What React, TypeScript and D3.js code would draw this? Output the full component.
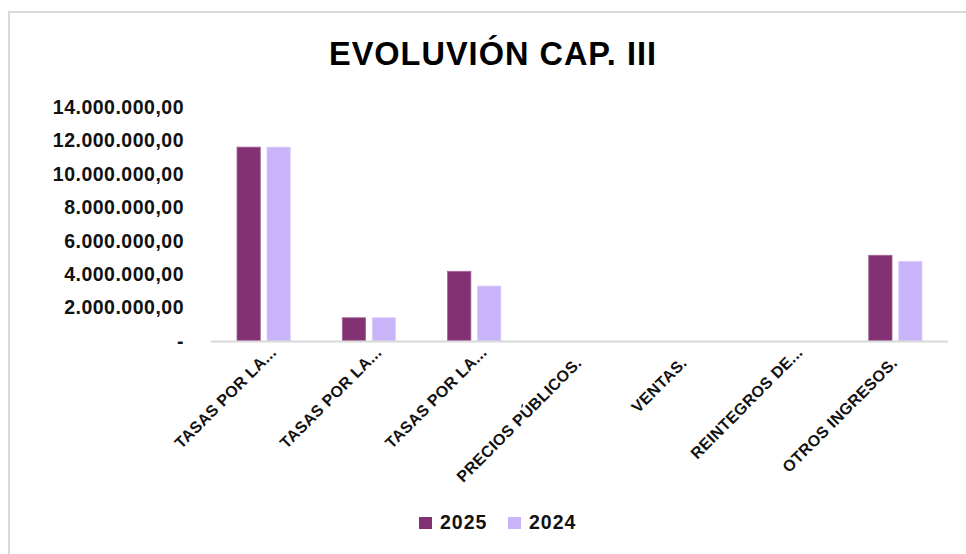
import React from "react";
import * as d3 from "d3";

const categories = [
  "TASAS POR LA...",
  "TASAS POR LA...",
  "TASAS POR LA...",
  "PRECIOS PÚBLICOS.",
  "VENTAS.",
  "REINTEGROS DE...",
  "OTROS INGRESOS.",
];
const seriesNames = ["2025", "2024"];
const values2025 = [11600000, 1390000, 4170000, 0, 0, 0, 5130000];
const values2024 = [11600000, 1390000, 3290000, 0, 0, 0, 4770000];
const yTicks = [0, 2000000, 4000000, 6000000, 8000000, 10000000, 12000000, 14000000];
const colors = ["#843173", "#C9B4FA"];
const title = "EVOLUVIÓN CAP. III";

const W = 966;
const H = 554;
const FONT = "'Liberation Sans', Arial, sans-serif";

const locale = d3.formatLocale({
  decimal: ",",
  thousands: ".",
  grouping: [3],
  currency: ["", ""],
});
const fmt = locale.format(",.2f");
const tickLabel = (v: number) => (v === 0 ? "-" : fmt(v));

export default function App() {
  const series = [values2025, values2024];
  const x = d3
    .scaleBand<number>()
    .domain(categories.map((_, i) => i))
    .range([211, 948])
    .paddingInner(0.494)
    .paddingOuter(0.247);
  const xs = d3
    .scaleBand<number>()
    .domain([0, 1])
    .range([0, x.bandwidth()])
    .paddingInner(0.223);
  const y = d3.scaleLinear().domain([0, 14000000]).range([341, 107]);

  return (
    <svg
      width={W}
      height={H}
      style={{ position: "absolute", left: 0, top: 0, background: "#fff" }}
    >
      <rect x={0} y={0} width={W} height={H} fill="#fff" />
      <rect
        x={9}
        y={12}
        width={1000}
        height={600}
        fill="#fff"
        stroke="#d9d9d9"
        strokeWidth={2}
      />
      <text
        x={493}
        y={65}
        textAnchor="middle"
        fontFamily={FONT}
        fontWeight="bold"
        fontSize={32.5}
        letterSpacing={1}
        fill="#000"
      >
        {title}
      </text>

      {yTicks.map((t) => (
        <text
          key={t}
          x={184}
          y={y(t)}
          dy="0.35em"
          textAnchor="end"
          fontFamily={FONT}
          fontWeight="bold"
          fontSize={19.5}
          letterSpacing={0.5}
          fill="#111"
        >
          {tickLabel(t)}
        </text>
      ))}

      {categories.map((c, i) =>
        series.map((vals, s) => {
          const v = vals[i];
          if (!v) return null;
          const bx = (x(i) as number) + (xs(s) as number);
          return (
            <rect
              key={`${i}-${s}`}
              x={bx}
              y={y(v)}
              width={xs.bandwidth()}
              height={y(0) - y(v)}
              fill={colors[s]}
              stroke={s === 0 ? "#a0679a" : "#ddd0fb"}
              strokeWidth={0.8}
            />
          );
        })
      )}

      <line x1={211} x2={948} y1={y(0) + 0.5} y2={y(0) + 0.5} stroke="#d9d9d9" strokeWidth={2} />

      {categories.map((c, i) => {
        const cx = (x(i) as number) + x.bandwidth() / 2;
        const truncated = c.endsWith("...");
        return (
          <text
            key={i}
            transform={`translate(${cx + 3},${364}) rotate(-45)`}
            dx={truncated ? 15 : 0}
            textAnchor="end"
            fontFamily={FONT}
            fontWeight="bold"
            fontSize={16}
            letterSpacing={0.3}
            fill="#111"
          >
            {c}
          </text>
        );
      })}

      {seriesNames.map((n, s) => {
        const lx = 419 + s * 89;
        return (
          <g key={n}>
            <rect x={lx} y={517} width={13} height={12} fill={colors[s]} />
            <text
              x={lx + 21}
              y={529}
              fontFamily={FONT}
              fontWeight="bold"
              fontSize={19.5}
              letterSpacing={1}
              fill="#111"
            >
              {n}
            </text>
          </g>
        );
      })}
    </svg>
  );
}
